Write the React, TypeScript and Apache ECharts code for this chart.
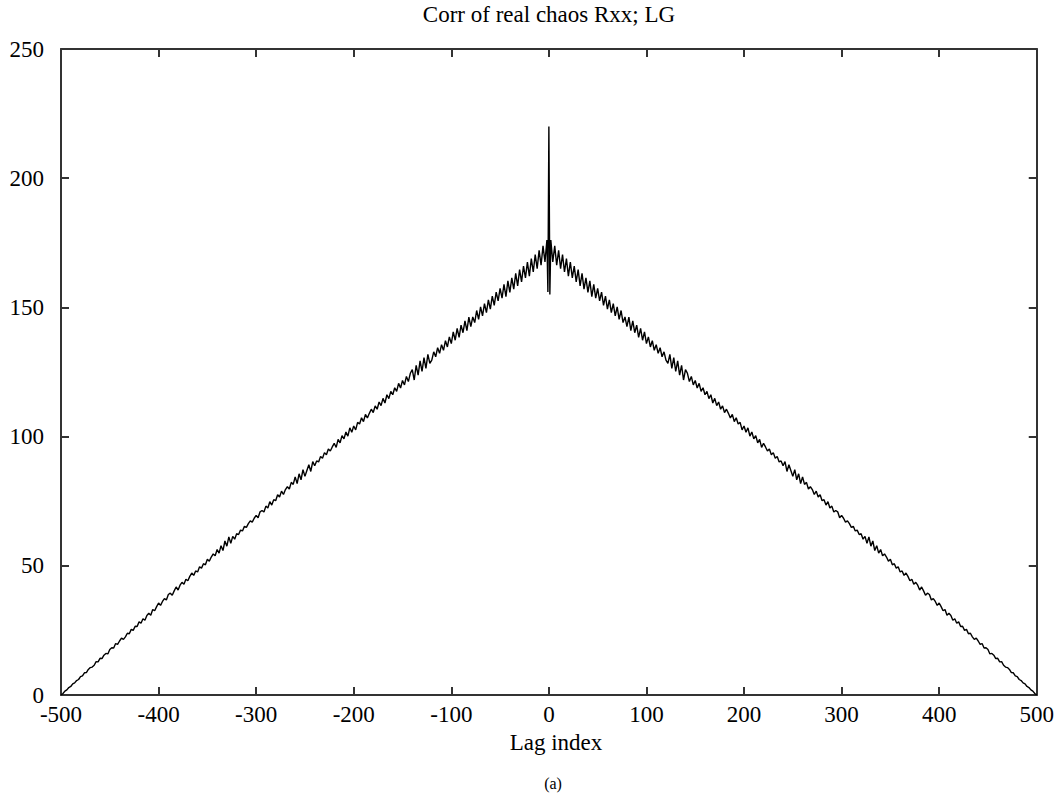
import React, { useEffect, useRef } from "react";
import * as echarts from "echarts";

const leftValues: number[] = [
  0, 0.6, 1.5, 2.0, 2.9, 3.3, 4.3, 4.7, 5.6, 6.0,
  7.1, 7.4, 8.6, 8.7, 9.9, 10.6, 10.8, 11.5, 12.9, 12.8,
  14.2, 14.1, 15.4, 16.1, 15.9, 17.6, 18.3, 18.2, 19.9, 19.6,
  20.9, 22.0, 21.5, 22.5, 23.9, 23.7, 25.4, 25.0, 26.6, 26.5,
  28.3, 27.8, 29.5, 28.9, 30.8, 31.6, 30.9, 33.1, 32.6, 34.2,
  35.6, 34.7, 36.2, 37.3, 36.8, 38.9, 39.4, 38.6, 40.3, 41.8,
  40.6, 42.5, 43.6, 42.9, 44.8, 44.2, 45.9, 47.2, 46.3, 48.0,
  47.6, 49.6, 49.1, 50.8, 50.4, 52.5, 51.8, 53.4, 54.6, 53.9,
  56.3, 54.9, 57.8, 55.9, 59.6, 57.6, 61.2, 58.7, 61.4, 60.3,
  62.4, 62.1, 63.8, 63.5, 65.3, 64.9, 66.3, 67.4, 66.9, 68.4,
  69.5, 68.6, 70.9, 71.4, 70.8, 73.1, 72.4, 74.8, 73.5, 75.6,
  75.2, 77.5, 76.6, 78.9, 77.6, 79.5, 80.6, 79.7, 82.3, 81.5,
  84.4, 81.8, 85.6, 83.3, 87.2, 84.6, 86.9, 89.1, 86.5, 90.3,
  88.7, 90.6, 90.2, 92.3, 91.6, 93.8, 93.0, 95.2, 94.4, 96.0,
  97.4, 95.8, 98.9, 97.6, 100.4, 99.1, 101.8, 100.2, 103.4, 101.7,
  104.1, 102.6, 105.5, 104.9, 107.3, 105.8, 108.6, 107.2, 109.0, 110.6,
  109.3, 111.9, 110.6, 113.4, 112.0, 114.8, 113.0, 116.2, 114.7, 117.5,
  116.2, 118.9, 117.5, 120.6, 118.8, 121.7, 120.0, 123.3, 121.3, 124.5,
  125.9, 121.9, 127.6, 123.8, 129.3, 125.2, 130.6, 126.4, 131.8, 128.3,
  129.6, 132.8, 130.9, 134.4, 132.2, 135.6, 133.4, 137.1, 134.7, 138.6,
  136.0, 140.5, 137.3, 141.9, 138.4, 143.1, 140.2, 144.8, 141.0, 146.2,
  142.6, 146.3, 144.1, 148.8, 145.4, 150.2, 146.7, 151.5, 148.0, 152.9,
  149.3, 154.4, 150.8, 155.9, 152.5, 157.4, 153.6, 158.9, 154.2, 160.3,
  155.8, 161.4, 157.1, 163.2, 158.3, 164.6, 159.9, 166.0, 161.4, 167.5,
  162.1, 168.9, 163.7, 170.4, 165.0, 172.1, 166.3, 173.8, 167.6, 176.1,
];
// Centre lags with the spike and the dip
const centerLags: number[] = [-1, 0, 1];
const centerValues: number[] = [156, 220, 155];

const xTicks = { min: -500, max: 500, interval: 100 };
const yTicks = { min: 0, max: 250, interval: 50 };

const TITLE = "Corr of real chaos Rxx; LG";
const XLABEL = "Lag index";
const CAPTION = "(a)";

const FONT = '"Liberation Serif", "Times New Roman", serif';

function buildData(): [number, number][] {
  const out: [number, number][] = [];
  leftValues.forEach((v, i) => out.push([-500 + 2 * i, v]));
  centerLags.forEach((l, i) => out.push([l, centerValues[i]]));
  // Rxx of a real signal is symmetric: right half mirrors the left half
  for (let j = 0; j < leftValues.length; j++) {
    out.push([2 + 2 * j, leftValues[leftValues.length - 1 - j]]);
  }
  return out;
}

export default function App() {
  const ref = useRef<HTMLDivElement>(null);
  useEffect(() => {
    if (!ref.current) return;
    const chart = echarts.init(ref.current, undefined, { renderer: "svg" });
    const axisLine = { show: true, onZero: false, lineStyle: { color: "#333", width: 2 } };
    const axisTick = { show: true, inside: true, length: 8, lineStyle: { color: "#333", width: 2 } };
    const label = { fontFamily: FONT, fontSize: 23, color: "#000" };
    chart.setOption({
      animation: false,
      backgroundColor: "#fff",
      grid: { left: 61, right: 11, top: 49, bottom: 104, containLabel: false },
      xAxis: [
        {
          type: "value", ...xTicks, position: "bottom",
          axisLine, axisTick, splitLine: { show: false },
          axisLabel: { ...label, margin: 8 },
        },
        {
          type: "value", ...xTicks, position: "top",
          axisLine, axisTick, splitLine: { show: false },
          axisLabel: { show: false },
        },
      ],
      yAxis: [
        {
          type: "value", ...yTicks, position: "left",
          axisLine, axisTick, splitLine: { show: false },
          axisLabel: { ...label, margin: 17 },
        },
        {
          type: "value", ...yTicks, position: "right",
          axisLine, axisTick, splitLine: { show: false },
          axisLabel: { show: false },
        },
      ],
      series: [
        {
          type: "line",
          data: buildData(),
          showSymbol: false,
          lineStyle: { color: "#000", width: 1.4 },
          xAxisIndex: 0,
          yAxisIndex: 0,
        },
      ],
      graphic: [
        {
          type: "text", x: 549, y: 14,
          style: { text: TITLE, font: `23px ${FONT}`, fill: "#000", textAlign: "center", textVerticalAlign: "middle" },
        },
        {
          type: "text", x: 556, y: 742,
          style: { text: XLABEL, font: `23px ${FONT}`, fill: "#000", textAlign: "center", textVerticalAlign: "middle" },
        },
        {
          type: "text", x: 553, y: 783,
          style: { text: CAPTION, font: `16px ${FONT}`, fill: "#000", textAlign: "center", textVerticalAlign: "middle" },
        },
      ],
    });
    return () => chart.dispose();
  }, []);
  return (
    <div
      ref={ref}
      style={{ position: "fixed", left: 0, top: 0, width: 1057, height: 799, background: "#fff" }}
    />
  );
}
